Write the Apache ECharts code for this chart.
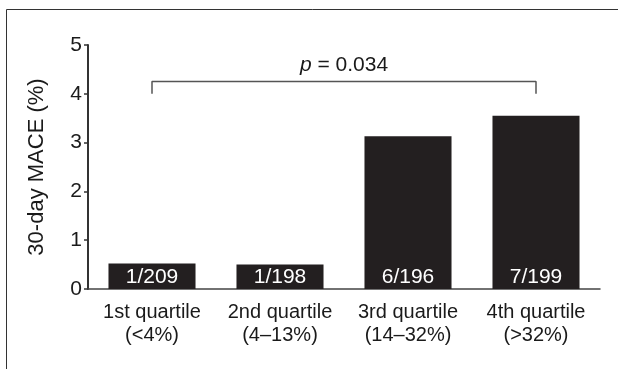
<!DOCTYPE html>
<html>
<head>
<meta charset="utf-8">
<script src="https://cdn.jsdelivr.net/npm/echarts@6/dist/echarts.min.js"></script>
<style>
html,body{margin:0;padding:0;background:#fff;}
#c{width:618px;height:369px;}
</style>
</head>
<body>
<div id="c"></div>
<script>
var categories = ['1st quartile\n(<4%)', '2nd quartile\n(4\u201313%)', '3rd quartile\n(14\u201332%)', '4th quartile\n(>32%)'];
var maceValues = [0.52, 0.5, 3.13, 3.55];
var barLabels = ['1/209', '1/198', '6/196', '7/199'];
var yTicks = [0, 1, 2, 3, 4, 5];
var bracketPoints = [[0, 4.0], [0, 4.25], [3, 4.25], [3, 4.0]];
var pPoint = [[1.5, 4.58]];
var pText = '0.034';

var chart = echarts.init(document.getElementById('c'));
var font = 'Liberation Sans, Arial, Helvetica, sans-serif';
chart.setOption({
  animation: false,
  backgroundColor: '#fff',
  graphic: [
    { type: 'line', shape: { x1: 6.5, y1: 9.5, x2: 618, y2: 9.5 }, style: { stroke: '#333', lineWidth: 1 } },
    { type: 'line', shape: { x1: 6.5, y1: 9.5, x2: 6.5, y2: 369 }, style: { stroke: '#333', lineWidth: 1 } }
  ],
  grid: { left: 88, right: 18, top: 45, bottom: 80, containLabel: false },
  xAxis: [{
    type: 'category',
    data: categories,
    axisLine: { lineStyle: { color: '#444', width: 1.5 } },
    axisTick: { show: false },
    axisLabel: { interval: 0, hideOverlap: false, color: '#1a1a1a', fontSize: 20, fontFamily: font, lineHeight: 23, margin: 12 }
  }, {
    type: 'value', min: -0.5, max: 3.5, show: false
  }],
  yAxis: {
    type: 'value', min: 0, max: 5, interval: 1,
    name: '30-day MACE (%)', nameLocation: 'middle', nameGap: 40,
    nameTextStyle: { color: '#1a1a1a', fontSize: 22, fontFamily: font },
    axisLine: { show: true, onZero: false, lineStyle: { color: '#333', width: 2 } },
    axisTick: { show: true, inside: false, length: 4, lineStyle: { color: '#333', width: 1.5 } },
    axisLabel: { color: '#1a1a1a', fontSize: 21, fontFamily: font, margin: 6,
      formatter: function (v) { return yTicks.indexOf(v) >= 0 ? String(v) : ''; } },
    splitLine: { show: false }
  },
  series: [{
    type: 'bar',
    data: maceValues.map(function (v, i) {
      return { value: v, label: { formatter: barLabels[i] } };
    }),
    barCategoryGap: '32%',
    itemStyle: { color: '#231f20' },
    label: { show: true, position: 'insideBottom', distance: 1, color: '#fff', fontSize: 21, fontFamily: font }
  }, {
    type: 'line',
    xAxisIndex: 1,
    data: bracketPoints,
    symbol: 'none',
    lineStyle: { color: '#555', width: 1.5 },
    silent: true
  }, {
    type: 'scatter',
    xAxisIndex: 1,
    data: pPoint,
    symbolSize: 0,
    itemStyle: { opacity: 1, color: '#1a1a1a' },
    label: {
      show: true, position: 'inside',
      formatter: '{i|p} = ' + pText,
      color: '#1a1a1a', fontSize: 21, fontFamily: font,
      rich: { i: { fontStyle: 'italic', fontSize: 21, fontFamily: font, color: '#1a1a1a' } }
    },
    silent: true
  }]
});
</script>
</body>
</html>
